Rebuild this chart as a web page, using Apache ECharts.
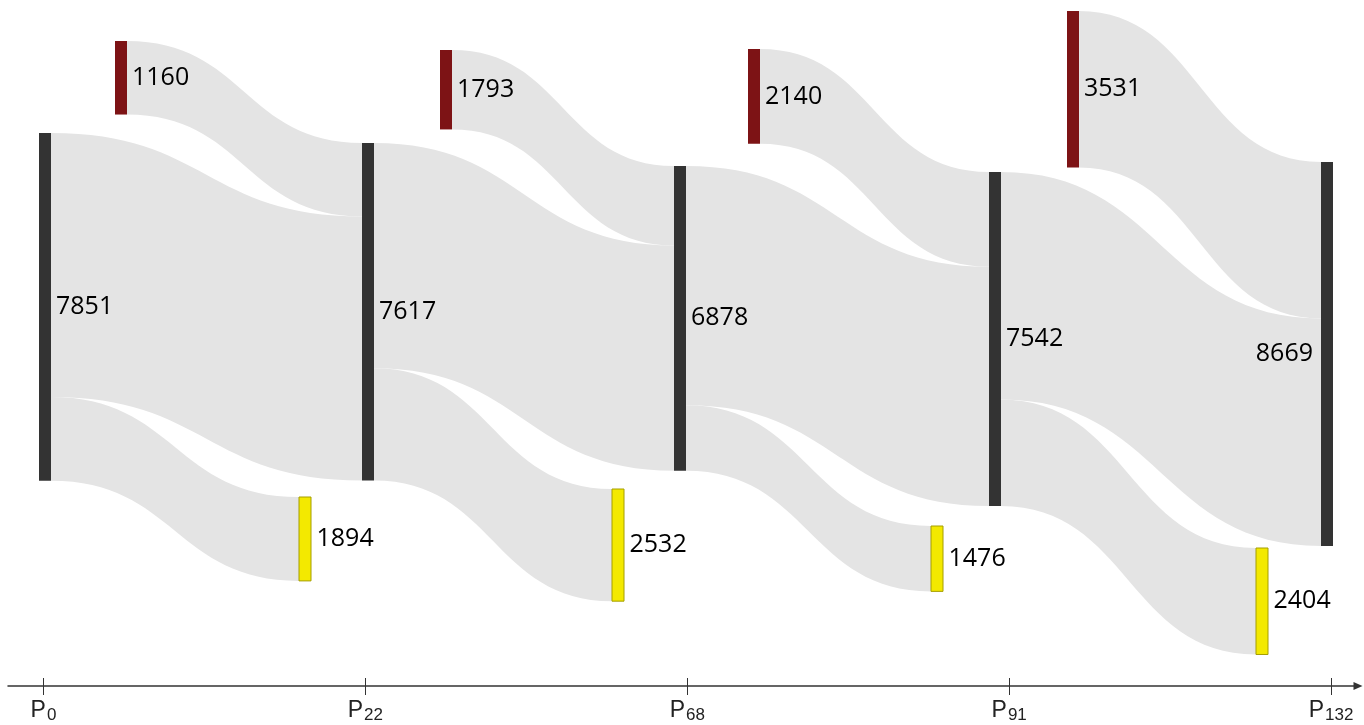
<!DOCTYPE html>
<html><head><meta charset="utf-8">
<script src="https://cdn.jsdelivr.net/npm/echarts@6/dist/echarts.min.js"></script>
<style>html,body{margin:0;padding:0;background:#fff}#c{width:1364px;height:725px}</style>
</head><body><div id="c"></div>
<script>
// ---------------- data ----------------
const periods = ['0', '22', '68', '91', '132'];
const stockValues = [7851, 7617, 6878, 7542, 8669];
// inflow bar/flow sizes as drawn (first bar is drawn at ~1660 though printed 1160)
const inflowValues = [1660, 1793, 2140, 3531];
const inflowLabels = ['1160', '1793', '2140', '3531'];
const outflowValues = [1894, 2532, 1476, 2404];

// ---------------- layout (pixels) ----------------
const W = 1364;
const PX_PER_UNIT = 0.0443;
const stockLeft = [39, 362, 674, 989, 1321];
const stockTop = [133, 143, 166, 172, 162];
const inflowLeft = [115, 440, 748, 1067];
const inflowTop = [41, 50, 49, 11];
const outflowLeft = [299, 612, 931, 1256];
const outflowTop = [497, 489, 526, 548];

const H = PX_PER_UNIT * Math.max.apply(null, stockValues.concat(inflowValues, outflowValues));

const COL_STOCK = '#333333', COL_IN = '#7d1315', COL_OUT = '#f3e900';

const nodes = [];
const labels = [];
let depth = 0;
stockValues.forEach((v, i) => {
  const last = i === stockValues.length - 1;
  nodes.push({ name: 'S' + i, depth: depth++, localX: stockLeft[i] / W, localY: stockTop[i] / H,
    itemStyle: { color: COL_STOCK },
    label: last ? { position: 'left', distance: 8 } : undefined });
  labels.push(String(v));
});
inflowValues.forEach((v, i) => {
  nodes.push({ name: 'I' + i, depth: depth++, localX: inflowLeft[i] / W, localY: inflowTop[i] / H,
    itemStyle: { color: COL_IN } });
  labels.push(inflowLabels[i]);
});
outflowValues.forEach((v, i) => {
  nodes.push({ name: 'O' + i, depth: depth++, localX: outflowLeft[i] / W, localY: outflowTop[i] / H,
    itemStyle: { color: COL_OUT, borderColor: '#a59e00', borderWidth: 1 } });
  labels.push(String(v));
});

const links = [];
for (let k = 1; k < stockValues.length; k++) {
  links.push({ source: 'I' + (k - 1), target: 'S' + k, value: inflowValues[k - 1] });
  links.push({ source: 'S' + (k - 1), target: 'S' + k, value: stockValues[k - 1] - outflowValues[k - 1] });
  links.push({ source: 'S' + (k - 1), target: 'O' + (k - 1), value: outflowValues[k - 1] });
}

// axis geometry
const TICK0 = 43.5, TICKSTEP = 321.9, AX_LEFT = 8, AX_RIGHT = 1358;
const XMIN = (AX_LEFT - TICK0) / TICKSTEP;
const XMAX = (AX_RIGHT - TICK0) / TICKSTEP;
const tickVals = periods.map((p, i) => i);

const chart = echarts.init(document.getElementById('c'), null, { renderer: 'canvas' });
chart.setOption({
  animation: false,
  backgroundColor: '#fff',
  grid: { left: AX_LEFT, right: 1364 - AX_RIGHT, top: 10, bottom: 39 },
  xAxis: [{
    type: 'value', position: 'bottom', min: XMIN, max: XMAX,
    axisLine: { show: true, onZero: false, lineStyle: { color: '#333', width: 1.5 },
      symbol: ['none', 'triangle'], symbolSize: [8, 9] },
    axisTick: { show: true, customValues: tickVals, length: 9, lineStyle: { color: '#333', width: 1 } },
    splitLine: { show: false },
    axisLabel: {
      customValues: tickVals, margin: 11,
      formatter: function (v) { return '{p|P}{s|' + periods[Math.round(v)] + '}'; },
      rich: {
        p: { fontSize: 23, fontFamily: 'Liberation Sans', color: '#222' },
        s: { fontSize: 17, fontFamily: 'Liberation Sans', color: '#222', padding: [10, 0, 0, 1] }
      }
    }
  }, {
    type: 'value', position: 'bottom', min: XMIN, max: XMAX,
    axisLine: { show: false, onZero: false },
    axisTick: { show: true, inside: true, customValues: tickVals, length: 8, lineStyle: { color: '#333', width: 1 } },
    axisLabel: { show: false }, splitLine: { show: false }
  }],
  yAxis: { type: 'value', min: 0, max: 1, show: false },
  series: [{
    type: 'sankey',
    left: 0, top: 0, width: W, height: H,
    nodeWidth: 12, nodeGap: 0, layoutIterations: 0, nodeAlign: 'left',
    draggable: false,
    emphasis: { disabled: true },
    data: nodes,
    links: links,
    lineStyle: { color: '#e4e4e4', opacity: 1, curveness: 0.5 },
    label: {
      show: true, position: 'right', distance: 5,
      fontSize: 25, fontFamily: 'Open Sans', color: '#000',
      formatter: function (p) { return labels[p.dataIndex]; }
    }
  }]
});
</script>
</body></html>
